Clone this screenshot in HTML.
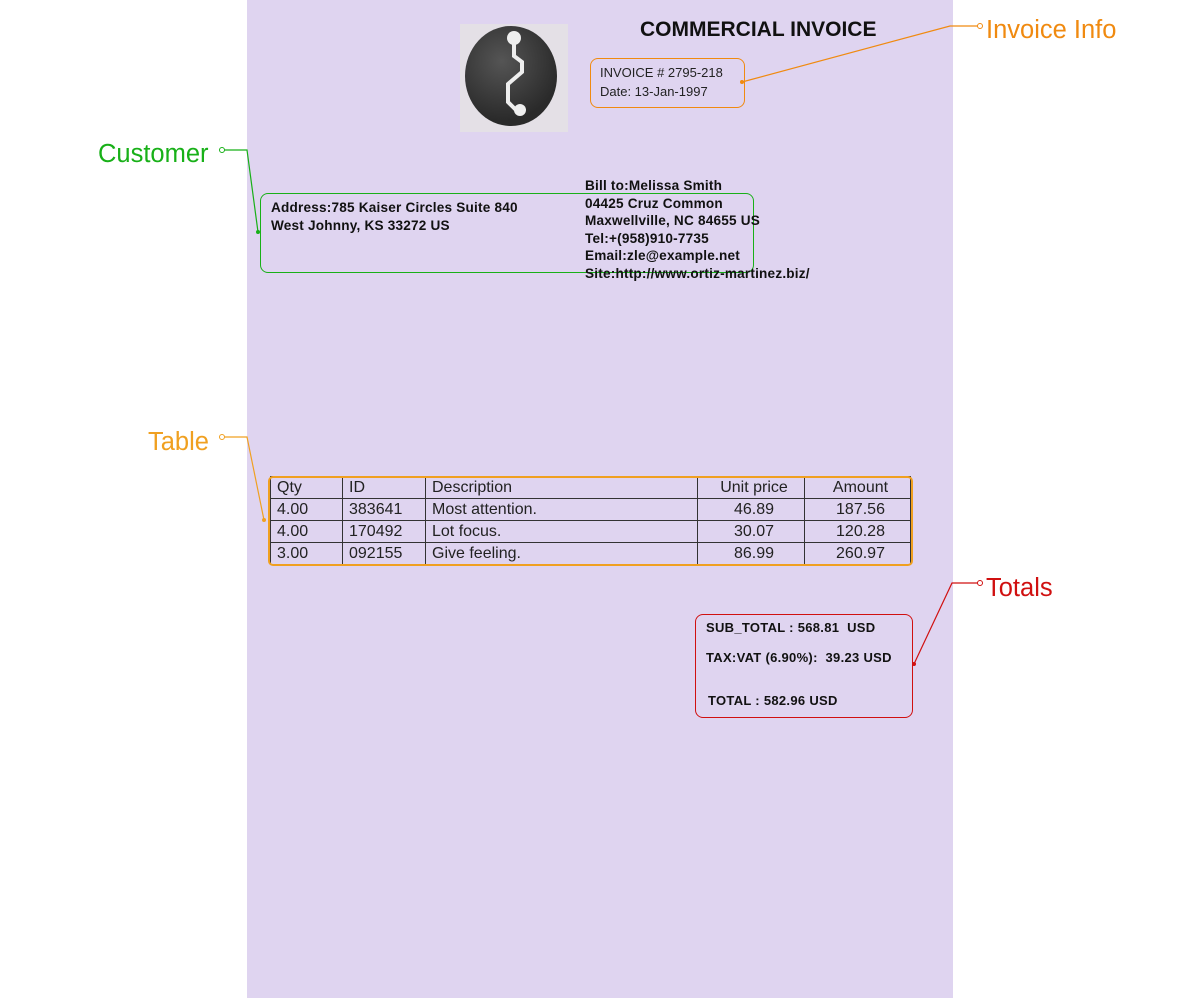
<!DOCTYPE html>
<html><head><meta charset="utf-8"><style>
body{margin:0;width:1200px;height:998px;background:#fff;position:relative;overflow:hidden;font-family:"Liberation Sans",sans-serif}
.pg{position:absolute;left:247px;top:0;width:706px;height:998px;background:#dfd4f0}
.a{position:absolute;white-space:nowrap}
.b{font-weight:bold;font-size:13.6px;color:#111;line-height:17.5px}
.lab{font-size:25.5px}
table{position:absolute;left:270px;top:476px;width:640px;table-layout:fixed;border-collapse:collapse;font-size:16px;color:#222}
td{border:1.5px solid #333;padding:0 0 0 6px;height:19px;line-height:21px;vertical-align:bottom;overflow:hidden}
.t{font-size:13px;font-weight:bold;color:#111}
</style></head><body>
<div class="pg"></div>
<div class="a" style="left:460px;top:24px;width:108px;height:108px;background:#e4e0e6"></div>
<div class="a" style="left:465px;top:26px;width:92px;height:100px;border-radius:50%;background:radial-gradient(circle at 40% 35%,#555,#2a2a2a 70%)"></div>
<svg class="a" style="left:460px;top:24px" width="108" height="108"><path d="M54 20 L54 32 L62 38 L62 48 L48 60 L48 78 L56 86" stroke="#eee" stroke-width="4" fill="none"/><circle cx="54" cy="14" r="7" fill="#eee"/><circle cx="60" cy="86" r="6" fill="#eee"/></svg>
<div class="a" style="left:640px;top:18px;font-size:21px;font-weight:bold;color:#111">COMMERCIAL INVOICE</div>
<div class="a" style="left:590px;top:58px;width:153px;height:48px;border:1.5px solid #f08a10;border-radius:8px"></div>
<div class="a" style="left:600px;top:63px;font-size:13px;color:#222;line-height:19px">INVOICE # 2795-218<br>Date: 13-Jan-1997</div>
<div class="a" style="left:260px;top:193px;width:492px;height:78px;border:1.5px solid #18b018;border-radius:8px"></div>
<div class="a b" style="left:271px;top:199px;letter-spacing:0.2px">Address:785 Kaiser Circles Suite 840<br>West Johnny, KS 33272 US</div>
<div class="a b" style="left:585px;top:177px;letter-spacing:0.2px">Bill to:Melissa Smith<br>04425 Cruz Common<br>Maxwellville, NC 84655 US<br>Tel:+(958)910-7735<br>Email:zle@example.net<br>Site:http://www.ortiz-martinez.biz/</div>
<table>
<col style="width:72px"><col style="width:83px"><col style="width:272px"><col style="width:107px"><col style="width:106px">
<tr><td>Qty</td><td>ID</td><td>Description</td><td style="text-align:center">Unit price</td><td style="text-align:center">Amount</td></tr>
<tr><td>4.00</td><td>383641</td><td>Most attention.</td><td style="text-align:center">46.89</td><td style="text-align:center">187.56</td></tr>
<tr><td>4.00</td><td>170492</td><td>Lot focus.</td><td style="text-align:center">30.07</td><td style="text-align:center">120.28</td></tr>
<tr><td>3.00</td><td>092155</td><td>Give feeling.</td><td style="text-align:center">86.99</td><td style="text-align:center">260.97</td></tr>
</table>
<div class="a" style="left:268px;top:476px;width:641px;height:86px;border:2px solid #f0a020;border-radius:5px"></div>
<div class="a" style="left:695px;top:614px;width:216px;height:102px;border:1.5px solid #d01010;border-radius:8px"></div>
<div class="a t" style="left:706px;top:620px;letter-spacing:0.3px">SUB_TOTAL : 568.81&nbsp; USD</div>
<div class="a t" style="left:706px;top:650px;letter-spacing:0.3px">TAX:VAT (6.90%):&nbsp; 39.23 USD</div>
<div class="a t" style="left:708px;top:693px;letter-spacing:0.3px">TOTAL : 582.96 USD</div>
<div class="a lab" style="left:986px;top:16px;color:#f08a10">Invoice Info</div>
<div class="a lab" style="left:98px;top:140px;color:#18b018">Customer</div>
<div class="a lab" style="left:148px;top:428px;color:#f0a020">Table</div>
<div class="a lab" style="left:986px;top:574px;color:#d01010">Totals</div>
<svg class="a" style="left:0;top:0" width="1200" height="998" fill="none">
<path d="M978 26 L950 26 L742 82" stroke="#f08a10" stroke-width="1.2"/><circle cx="980" cy="26" r="2.5" fill="#fff" stroke="#f08a10"/><circle cx="742" cy="82" r="2" fill="#f08a10"/>
<path d="M224 150 L247 150 L258 232" stroke="#18b018" stroke-width="1.2"/><circle cx="222" cy="150" r="2.5" fill="#fff" stroke="#18b018"/><circle cx="258" cy="232" r="2" fill="#18b018"/>
<path d="M224 437 L247 437 L264 520" stroke="#f0a020" stroke-width="1.2"/><circle cx="222" cy="437" r="2.5" fill="#fff" stroke="#f0a020"/><circle cx="264" cy="520" r="2" fill="#f0a020"/>
<path d="M978 583 L952 583 L914 664" stroke="#d01010" stroke-width="1.2"/><circle cx="980" cy="583" r="2.5" fill="#fff" stroke="#d01010"/><circle cx="914" cy="664" r="2" fill="#d01010"/>
</svg>
</body></html>
